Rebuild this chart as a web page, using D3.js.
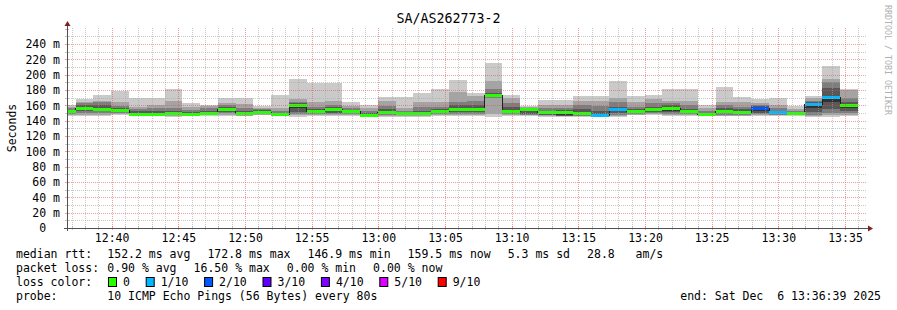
<!DOCTYPE html>
<html>
<head>
<meta charset="utf-8">
<script src="https://cdn.jsdelivr.net/npm/d3@7"></script>
<style>
  body { margin: 0; background: #fff; }
  svg { display: block; }
  text { font-family: "DejaVu Sans Mono", monospace; white-space: pre; }
</style>
</head>
<body>
<div id="chart"></div>
<script>
'use strict';

// ---- data ----
const title = 'SA/AS262773-2'
const endTime = new Date(2025, 11, 6, 13, 36, 39)
const firstStepEnd = new Date(2025, 11, 6, 12, 37, 18)
const stepSec = 80

// sorted rtt of the 10 pings for each 80s step (ms)
const pings = [
  [146, 148, 149, 150, 151, 152.5, 154, 156, 158, 161],
  [146, 148, 150, 152, 154, 157, 160, 163, 165, 168.5],
  [145.5, 148, 150, 152.5, 154, 156.5, 160, 164, 166, 173],
  [147, 148.5, 150, 151.5, 152.5, 154, 157, 159.5, 164.5, 179],
  [145.5, 146.5, 147, 147.5, 148, 148.5, 152, 155, 158, 170],
  [146, 147, 147.5, 148, 148.5, 149, 153, 157, 160.5, 170],
  [145, 146.5, 147.5, 148, 148.5, 150, 153, 157, 166, 181.5],
  [145.5, 146.5, 147, 147.5, 148, 149, 151, 154, 157.5, 163],
  [146, 147, 148, 149, 150, 151, 153, 156, 159, 160.5],
  [146.5, 148, 149.5, 151, 153.5, 156, 157.5, 160, 163, 170],
  [145.5, 146.5, 147.5, 148, 148.5, 149.5, 153, 157, 161.5, 170],
  [147, 148, 149, 150, 150.5, 152, 153.5, 155, 157, 158.5],
  [145.5, 146.5, 147, 147.5, 148, 149, 150, 152.5, 156, 173.5],
  [145, 147, 149, 151.5, 157, 161.5, 163, 165, 168, 194],
  [145.5, 147, 148.5, 150, 151, 152.5, 155, 158, 164.5, 188.5],
  [146, 147.5, 149, 150.5, 153, 156, 158, 161, 166, 188.5],
  [146, 147.5, 149, 150.5, 151, 152.5, 154, 156, 159.5, 164],
  [145.5, 146.5, 147, 147.5, 147.5, 148.5, 150, 153, 157, 160.5],
  [145, 146.5, 148, 149.5, 150.5, 152, 155, 159, 165.5, 171],
  [145, 146, 147, 148, 148.5, 149.5, 151, 153, 156, 171],
  [145, 146, 147, 148, 148.5, 150, 153, 158, 165, 176.5],
  [146, 147, 148.5, 150, 151.5, 153.5, 155.5, 158, 165, 181.5],
  [146, 147.5, 149, 151, 153, 155.5, 160, 165, 177, 193],
  [146, 147.5, 149, 151, 153, 155.5, 160, 166, 172.5, 175.5],
  [145, 149, 170, 171.5, 172.5, 174.5, 176, 181, 191.5, 215],
  [146, 147.5, 149, 150.5, 152, 153.5, 157.5, 162.5, 169, 173.5],
  [146, 147, 148, 149, 152, 154.5, 155, 156, 157.5, 159],
  [145, 146, 147, 147.5, 149, 151.5, 153, 156, 161, 167.5],
  [145, 145.5, 146, 146.5, 147, 152, 153.5, 156, 160, 167],
  [145, 146, 146.5, 147, 147.5, 150, 155, 160, 166, 172],
  [145.5, 146, 146.5, 147, 147.5, 148.5, 152, 159.5, 166, 172],
  [145, 146, 148, 150, 152, 155.5, 158, 165, 170, 191.5],
  [147, 148, 149, 150.5, 151.5, 153.5, 155, 158, 164, 172.5],
  [147.5, 148.5, 150, 151.5, 153, 156, 158, 163, 168, 173.5],
  [146, 147.5, 149, 151, 153, 157, 160, 163, 166, 181.5],
  [145.5, 147, 148.5, 149.5, 150.5, 152.5, 155, 160, 166, 181.5],
  [146, 146.5, 147, 147.5, 148, 149, 150.5, 153, 156, 160],
  [145.5, 146.5, 148, 149.5, 151, 153.5, 157, 160, 164.5, 184],
  [145.5, 146.5, 147.5, 148.5, 150, 152, 155, 158, 164.5, 171],
  [146, 147, 148.5, 150.5, 153, 157, 159, 161, 163.5, 168.5],
  [146.5, 147.5, 148, 149, 150, 151.5, 153, 157, 161, 170],
  [146.5, 147, 147.5, 148, 148.5, 149.5, 151, 153, 155, 158.5],
  [145, 146.5, 148, 151, 157, 162, 164, 166, 169, 172],
  [145, 147, 150, 155, 165, 172, 182, 190, 194, 211.5],
  [146, 148, 150, 152, 156, 161.5, 165, 170, 180, 181.5]
]
const medians = [151.5, 155.5, 155, 153, 148, 148.5, 149, 148.5, 149, 155,
  149, 151, 148.5, 160, 151.5, 154.5, 151.5, 147.3, 151, 149,
  149, 152.5, 154, 154, 172.8, 152.5, 154, 150.5, 151, 149,
  147.3, 154.5, 152.5, 155, 156, 151.5, 148.5, 152.5, 151, 156,
  150.8, 148.8, 161, 170.5, 159.5]
// number of lost pings (index into lossColors)
const losses = [0, 0, 0, 0, 0, 0, 0, 0, 0, 0, 0, 0, 0, 0, 0, 0, 0, 0, 0, 0,
  0, 0, 0, 0, 0, 0, 0, 0, 0, 0, 1, 1, 0, 0, 0, 0, 0, 0, 0, 2,
  1, 0, 1, 1, 0]

const yTicks = [0, 20, 40, 60, 80, 100, 120, 140, 160, 180, 200, 220, 240]
const lossLabels = ['0', '1/10', '2/10', '3/10', '4/10', '5/10', '9/10']
const lossColors = ['#26ff00', '#00b8ff', '#0059ff', '#5e00ff', '#7e00ff', '#dd00ff', '#ff0000']
const smokeShades = ['#cacaca', '#a4a4a4', '#7e7e7e', '#585858', '#323232']
const medianStats = [152.2, 172.8, 146.9, 159.5, 5.3, 28.8]
const lossStats = [0.90, 16.50, 0.00, 0.00]
const probeText = '10 ICMP Echo Pings (56 Bytes) every 80s'
const endText = 'end: Sat Dec  6 13:36:39 2025'

// ---- layout ----
const W = 897, H = 310
const dims = { left: 67, top: 28, width: 800, height: 200 }
const bottom = dims.top + dims.height
const right = dims.left + dims.width
const yMax = 260.87
const adv = 6.9   // monospace advance at 11.5px

const svg = d3.select('#chart').append('svg')
  .attr('width', W)
  .attr('height', H)

svg.append('rect').attr('width', W).attr('height', H).attr('fill', '#fff')

const x = d3.scaleTime()
  .domain([new Date(+endTime - 3600e3), endTime])
  .range([dims.left, right])
  .clamp(true)

const y = d3.scaleLinear()
  .domain([0, yMax])
  .range([bottom, dims.top])

const steps = medians.map((m, k) => ({
  t0: new Date(+firstStepEnd + (k - 1) * stepSec * 1000),
  t1: new Date(+firstStepEnd + k * stepSec * 1000),
  p: pings[k],
  med: m,
  loss: losses[k]
}))

// smoke, outer band first
const smoke_g = svg.append('g').attr('shape-rendering', 'crispEdges')
smokeShades.forEach((shade, i) => {
  smoke_g.append('g')
  .selectAll('rect')
  .data(steps)
  .join('rect')
  .attr('x', d => x(d.t0))
  .attr('width', d => x(d.t1) - x(d.t0))
  .attr('y', d => y(d.p[9 - i]))
  .attr('height', d => y(d.p[i]) - y(d.p[9 - i]))
  .attr('fill', shade)
})

// median line (stepped)
const medPts = steps.flatMap(d => [[x(d.t0), y(d.med)], [x(d.t1), y(d.med)]])
svg.append('path')
  .attr('d', d3.line()(medPts))
  .attr('fill', 'none')
  .attr('stroke', '#202020')
  .attr('stroke-width', 1)
  .attr('shape-rendering', 'crispEdges')

// loss coloured median band
svg.append('g')
  .attr('shape-rendering', 'crispEdges')
  .selectAll('rect')
  .data(steps)
  .join('rect')
  .attr('x', d => x(d.t0))
  .attr('width', d => x(d.t1) - x(d.t0))
  .attr('y', d => y(d.med) - 1.5)
  .attr('height', 3)
  .attr('fill', d => lossColors[d.loss])

// grid (on top, translucent)
const grid_g = svg.append('g').attr('shape-rendering', 'crispEdges')
const minorCol = 'rgba(165,165,165,0.6)'
const majorCol = 'rgba(224,80,80,0.55)'
const minT = x.ticks(d3.timeMinute.every(1))
const majT = x.ticks(d3.timeMinute.every(5))
const majKeys = new Set(majT.map(d => +d))

grid_g.selectAll('.vmin')
  .data(minT.filter(d => !majKeys.has(+d)))
  .join('line')
  .attr('x1', d => Math.round(x(d)) + 0.5).attr('x2', d => Math.round(x(d)) + 0.5)
  .attr('y1', dims.top).attr('y2', bottom)
  .attr('stroke', minorCol).attr('stroke-dasharray', '1,1')

grid_g.selectAll('.vmaj')
  .data(majT)
  .join('line')
  .attr('x1', d => Math.round(x(d)) + 0.5).attr('x2', d => Math.round(x(d)) + 0.5)
  .attr('y1', dims.top).attr('y2', bottom)
  .attr('stroke', majorCol).attr('stroke-dasharray', '1,1')

const hMinor = d3.range(10, yMax, 20)
grid_g.selectAll('.hmin')
  .data(hMinor)
  .join('line')
  .attr('x1', dims.left).attr('x2', right)
  .attr('y1', d => Math.round(y(d)) + 0.5).attr('y2', d => Math.round(y(d)) + 0.5)
  .attr('stroke', minorCol).attr('stroke-dasharray', '1,1')

grid_g.selectAll('.hmaj')
  .data(yTicks.filter(d => d > 0))
  .join('line')
  .attr('x1', dims.left).attr('x2', right)
  .attr('y1', d => Math.round(y(d)) + 0.5).attr('y2', d => Math.round(y(d)) + 0.5)
  .attr('stroke', majorCol).attr('stroke-dasharray', '1,1')

// axes
const axisCol = '#505050'
const arrowCol = '#7f1f1f'
const yAxis = d3.axisLeft(y)
  .tickValues(yTicks)
  .tickSize(0)
  .tickPadding(7)
  .tickFormat(d => d === 0 ? '0  ' : d + ' m')
const yAxis_g = svg.append('g')
  .attr('transform', `translate(${dims.left},0)`)
  .call(yAxis)
yAxis_g.select('.domain').remove()
yAxis_g.selectAll('text')
  .attr('font-family', '"DejaVu Sans Mono", monospace')
  .attr('font-size', '11.5px')
  .attr('fill', '#000')

const xAxis = d3.axisBottom(x)
  .ticks(d3.timeMinute.every(5))
  .tickFormat(d3.timeFormat('%H:%M'))
  .tickSize(0)
  .tickPadding(5.5)
const xAxis_g = svg.append('g')
  .attr('transform', `translate(0,${bottom})`)
  .call(xAxis)
xAxis_g.select('.domain').remove()
xAxis_g.selectAll('text')
  .attr('font-family', '"DejaVu Sans Mono", monospace')
  .attr('font-size', '11.5px')
  .attr('fill', '#000')

// small ticks on the axes
svg.append('g').selectAll('line')
  .data(minT)
  .join('line')
  .attr('x1', d => Math.round(x(d)) + 0.5).attr('x2', d => Math.round(x(d)) + 0.5)
  .attr('y1', bottom - 2).attr('y2', bottom + 2)
  .attr('stroke', d => majKeys.has(+d) ? majorCol : minorCol)
svg.append('g').selectAll('line')
  .data(d3.range(0, yMax, 10))
  .join('line')
  .attr('x1', dims.left - 2).attr('x2', dims.left + 2)
  .attr('y1', d => Math.round(y(d)) + 0.5).attr('y2', d => Math.round(y(d)) + 0.5)
  .attr('stroke', d => d % 20 === 0 ? majorCol : minorCol)

svg.append('line')
  .attr('x1', dims.left - 3).attr('x2', right + 2)
  .attr('y1', bottom + 0.5).attr('y2', bottom + 0.5)
  .attr('stroke', axisCol)
svg.append('line')
  .attr('x1', dims.left + 0.5).attr('x2', dims.left + 0.5)
  .attr('y1', bottom + 3).attr('y2', dims.top - 3)
  .attr('stroke', axisCol)
svg.append('path')
  .attr('d', `M${dims.left - 2.5},${dims.top - 2}L${dims.left + 3.5},${dims.top - 2}L${dims.left + 0.5},${dims.top - 7}Z`)
  .attr('fill', arrowCol)
svg.append('path')
  .attr('d', `M${right + 1},${bottom - 2.5}L${right + 1},${bottom + 3.5}L${right + 6},${bottom + 0.5}Z`)
  .attr('fill', arrowCol)

// titles
svg.append('text')
  .attr('x', W / 2)
  .attr('y', 23)
  .attr('text-anchor', 'middle')
  .attr('font-size', '13.3px')
  .text(title)

svg.append('text')
  .attr('transform', `translate(16,${(dims.top + bottom) / 2}) rotate(-90)`)
  .attr('text-anchor', 'middle')
  .attr('font-size', '11.5px')
  .text('Seconds')

svg.append('text')
  .attr('transform', 'translate(885,5) rotate(90)')
  .attr('font-size', '8.3px')
  .attr('fill', '#b0b0b0')
  .text('RRDTOOL / TOBI OETIKER')

// legend
const legend_g = svg.append('g').attr('font-size', '11.5px').attr('fill', '#000')
const row_y = [258, 272, 286, 300]
const firstCol = 107.3
const itemGap = 17.3

function layoutRow(items, yy) {
  let xx = firstCol
  items.forEach(s => {
    legend_g.append('text').attr('x', xx).attr('y', yy).text(s)
    xx += s.length * adv + itemGap
  })
}

legend_g.append('text').attr('x', 16).attr('y', row_y[0]).text('median rtt:')
const medUnits = ['ms avg', 'ms max', 'ms min', 'ms now', 'ms sd']
layoutRow(medianStats.slice(0, 5).map((v, i) => v.toFixed(1) + ' ' + medUnits[i])
  .concat([medianStats[5].toFixed(1) + '   am/s']), row_y[0])

legend_g.append('text').attr('x', 16).attr('y', row_y[1]).text('packet loss:')
const lossUnits = ['% avg', '% max', '% min', '% now']
layoutRow(lossStats.map((v, i) => v.toFixed(2) + ' ' + lossUnits[i]), row_y[1])

legend_g.append('text').attr('x', 16).attr('y', row_y[2]).text('loss color:')
let bx = 108
lossLabels.forEach((lab, i) => {
  legend_g.append('rect')
    .attr('x', bx + 0.5).attr('y', row_y[2] - 8.5)
    .attr('width', 8).attr('height', 9)
    .attr('fill', lossColors[i])
    .attr('stroke', '#000')
  legend_g.append('text').attr('x', bx + 15).attr('y', row_y[2]).text(lab)
  bx += 15 + lab.length * adv + 15.8
})

legend_g.append('text').attr('x', 16).attr('y', row_y[3]).text('probe:')
legend_g.append('text').attr('x', firstCol).attr('y', row_y[3]).text(probeText)
legend_g.append('text').attr('x', 881).attr('y', row_y[3]).attr('text-anchor', 'end').text(endText)
</script>
</body>
</html>
